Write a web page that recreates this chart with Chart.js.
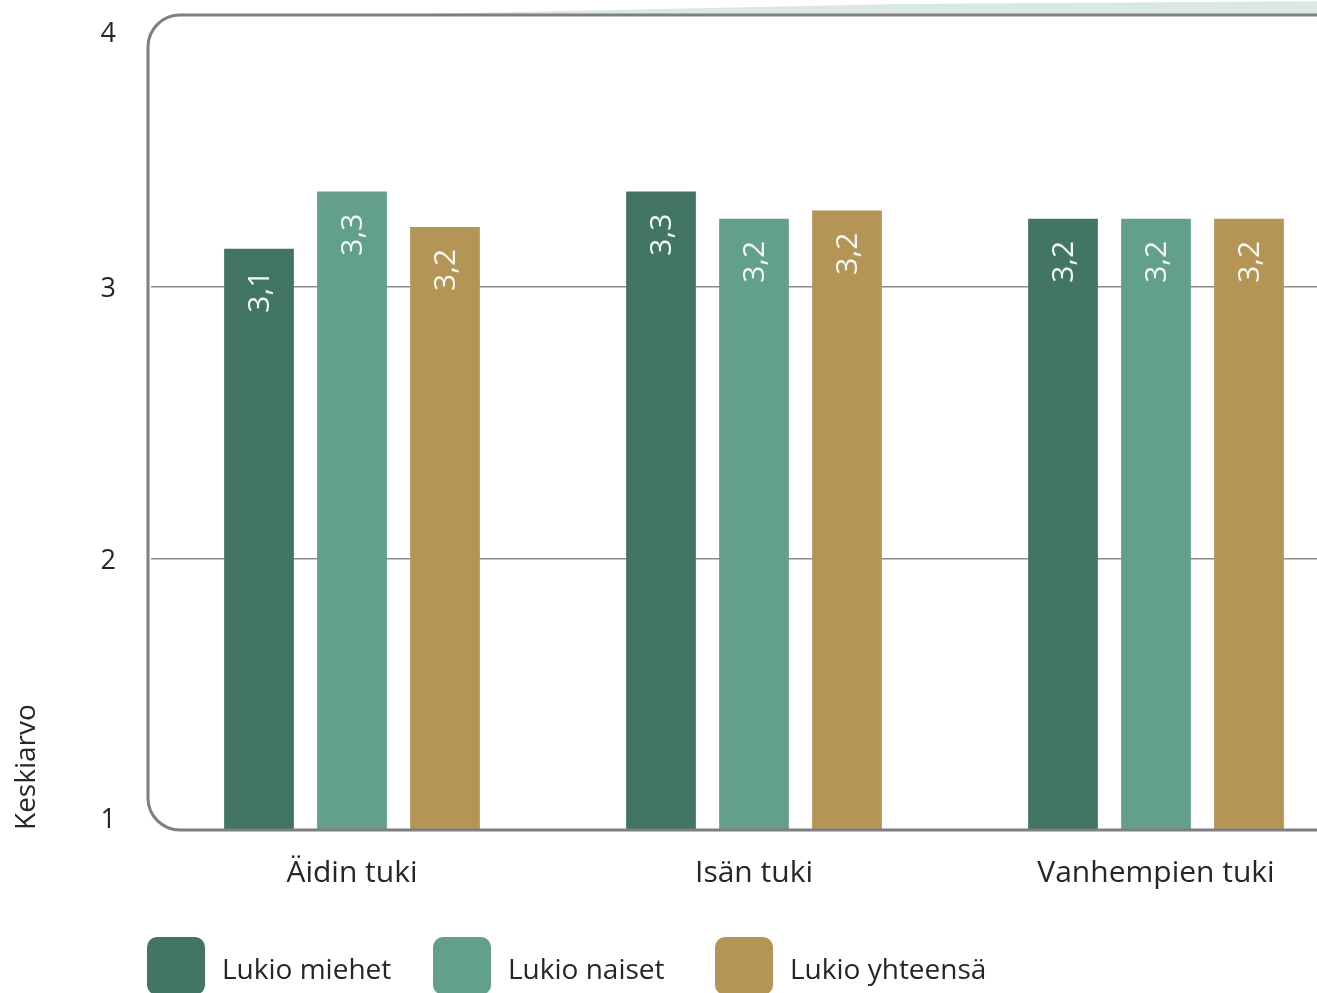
<!DOCTYPE html>
<html>
<head>
<meta charset="utf-8">
<script src="https://cdn.jsdelivr.net/npm/chart.js@4.4.1/dist/chart.umd.min.js"></script>
<style>
    body { margin: 0; overflow: hidden; background: #fff; font-family: "Open Sans", sans-serif; }
    #wrap { position: relative; width: 1357px; height: 993px; }
    .item { position: absolute; top: 937px; display: flex; align-items: center; }
    .box { width: 58px; height: 58px; border-radius: 10px; }
    .txt { margin-left: 17px; font-size: 28px; color: #262626; margin-top: 4px; white-space: nowrap; }
</style>
</head>
<body>
<div id="wrap">
    <canvas id="canvas" width="1357" height="993"></canvas>
</div>
<script>
    var categories = ['Äidin tuki', 'Isän tuki', 'Vanhempien tuki']
    var seriesNames = ['Lukio miehet', 'Lukio naiset', 'Lukio yhteensä']
    var miehet = [3.14, 3.35, 3.25]
    var naiset = [3.35, 3.25, 3.25]
    var yhteensa = [3.22, 3.28, 3.25]
    // labels as printed on the bars
    var miehetLabels = ['3,1', '3,3', '3,2']
    var naisetLabels = ['3,3', '3,2', '3,2']
    var yhteensaLabels = ['3,2', '3,2', '3,2']
    var yTicks = [1, 2, 3, 4]

    var colors = ['#427564', '#62a08b', '#b49555']
    var legendLeft = [147, 433, 715]
    var font = '"Open Sans", sans-serif'
    var textColor = '#262626'

    var barLabels = [miehetLabels, naisetLabels, yhteensaLabels]

    // rounded frame round the plot + the pale band above it
    var framePlugin = {
        id: 'frame',
        beforeDraw: function(chart) {
            var c = chart.ctx
            c.save()
            c.fillStyle = '#dbe8e1'
            c.beginPath()
            c.moveTo(420, 14)
            c.lineTo(1360, 14)
            c.lineTo(1360, 1)
            c.lineTo(900, 4)
            c.closePath()
            c.fill()
            c.restore()
        },
        afterDatasetsDraw: function(chart) {
            var a = chart.chartArea
            var c = chart.ctx
            var r = 32
            var left = a.left - 3
            var right = a.right + 40
            c.save()
            c.strokeStyle = '#7e7f83'
            c.lineWidth = 3
            c.beginPath()
            c.moveTo(right, a.top)
            c.lineTo(left + r, a.top)
            c.arcTo(left, a.top, left, a.top + r, r)
            c.lineTo(left, a.bottom - r)
            c.arcTo(left, a.bottom, left + r, a.bottom, r)
            c.lineTo(right, a.bottom)
            c.stroke()
            c.restore()
        }
    }

    // rotated value labels inside the bars
    var valuePlugin = {
        id: 'values',
        afterDatasetsDraw: function(chart) {
            var c = chart.ctx
            c.save()
            c.fillStyle = '#f2f8f5'
            c.font = '30px ' + font
            c.textAlign = 'right'
            c.textBaseline = 'middle'
            chart.data.datasets.forEach(function(ds, di) {
                chart.getDatasetMeta(di).data.forEach(function(bar, i) {
                    c.save()
                    c.translate(bar.x + 1, bar.y + 22)
                    c.rotate(-Math.PI / 2)
                    c.fillText(barLabels[di][i], 0, 0)
                    c.restore()
                })
            })
            c.restore()
        }
    }

    var ctx = document.getElementById('canvas').getContext('2d')
    var chart = new Chart(ctx, {
        type: 'bar',
        data: {
            labels: categories,
            datasets: [
                { label: seriesNames[0], data: miehet, backgroundColor: colors[0] },
                { label: seriesNames[1], data: naiset, backgroundColor: colors[1] },
                { label: seriesNames[2], data: yhteensa, backgroundColor: colors[2] }
            ]
        },
        plugins: [framePlugin, valuePlugin],
        options: {
            responsive: false,
            animation: false,
            layout: { padding: { top: 15, right: 0, bottom: 0, left: 0 } },
            categoryPercentage: 0.694,
            barPercentage: 0.75,
            plugins: {
                legend: { display: false },
                tooltip: { enabled: false }
            },
            scales: {
                x: {
                    grid: { display: false },
                    border: { display: false },
                    ticks: {
                        color: textColor,
                        font: { family: font, size: 30 },
                        padding: 17
                    },
                    afterFit: function(s) {
                        s.height = 163
                        s.paddingLeft = 0
                        s.paddingRight = 0
                    }
                },
                y: {
                    min: yTicks[0],
                    max: yTicks[yTicks.length - 1],
                    afterBuildTicks: function(s) {
                        s.ticks = yTicks.map(function(v) { return { value: v } })
                    },
                    grid: {
                        drawTicks: false,
                        lineWidth: 1.5,
                        color: function(c) {
                            var v = c.tick && c.tick.value
                            return (v === 2 || v === 3) ? '#8a8a8c' : 'rgba(0,0,0,0)'
                        }
                    },
                    border: { display: false },
                    ticks: {
                        color: textColor,
                        padding: 35,
                        labelOffset: 3,
                        font: function(c) {
                            var v = c.tick && c.tick.value
                            var lh = v === 4 ? '32px' : (v === 1 ? '26px' : 1.2)
                            return { family: font, size: 27, lineHeight: lh }
                        },
                        callback: function(v) {
                            if (v === 4) return ['', '4']
                            if (v === 1) return ['1', '']
                            return String(v)
                        }
                    },
                    title: {
                        display: true,
                        text: 'Keskiarvo',
                        align: 'start',
                        color: textColor,
                        font: { family: font, size: 28 },
                        padding: { top: 10, bottom: 0 }
                    },
                    afterFit: function(s) {
                        s.width = 151
                        s.paddingTop = 0
                        s.paddingBottom = 0
                    }
                }
            }
        }
    })

    // legend below the chart
    var wrap = document.getElementById('wrap')
    seriesNames.forEach(function(name, i) {
        var item = document.createElement('div')
        item.className = 'item'
        item.style.left = legendLeft[i] + 'px'
        var box = document.createElement('div')
        box.className = 'box'
        box.style.background = colors[i]
        var t = document.createElement('span')
        t.className = 'txt'
        t.textContent = name
        item.appendChild(box)
        item.appendChild(t)
        wrap.appendChild(item)
    })
</script>
</body>
</html>
